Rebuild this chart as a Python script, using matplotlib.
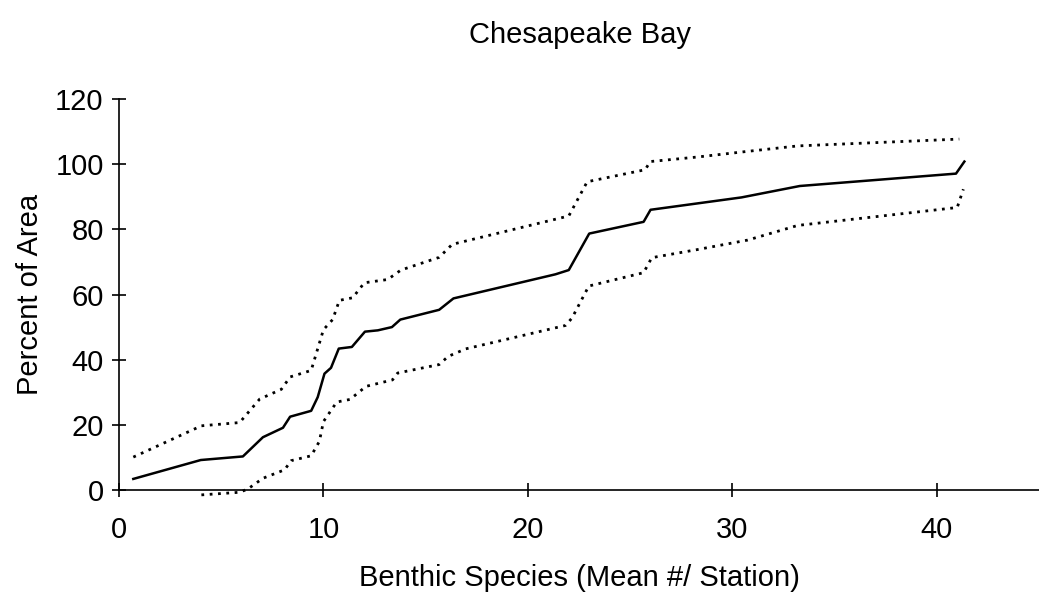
"""
Chesapeake Bay: percent of area vs benthic species (mean # / station),
with upper and lower confidence bounds (dotted).
"""

import matplotlib
matplotlib.use("Agg")
import matplotlib.pyplot as plt

plt.rcParams["font.family"] = ["Liberation Sans", "DejaVu Sans"]

# Main curve
mean_x = [0.7, 4.0, 6.06, 7.04, 8.02, 8.37, 9.4, 9.72, 10.05, 10.37, 10.75, 11.39,
          12.03, 12.66, 13.35, 13.76, 15.66, 16.36, 21.35, 22.0, 23.0, 25.66, 26.0,
          30.45, 33.3, 40.94, 41.35]
mean_y = [3.4, 9.2, 10.3, 16.2, 19.1, 22.5, 24.3, 28.5, 35.7, 37.5, 43.4, 43.9,
          48.6, 49.0, 50.0, 52.3, 55.3, 58.8, 66.2, 67.5, 78.7, 82.3, 86.0,
          89.8, 93.3, 97.1, 100.8]

# Upper bound
upper_x = [0.7, 4.03, 5.9, 6.88, 7.94, 8.37, 9.4, 10.0, 10.45, 10.78, 11.43, 12.0,
           13.14, 13.79, 15.66, 16.3, 22.0, 22.9, 25.74, 25.98, 28.3, 30.7, 33.2, 41.1]
upper_y = [10.1, 19.7, 20.7, 27.9, 30.9, 34.7, 36.7, 49.2, 52.3, 58.2, 59.0, 63.6,
           64.6, 67.5, 71.4, 75.4, 84.1, 94.6, 98.3, 100.8, 102.2, 103.9, 105.6, 107.7]

# Lower bound
lower_x = [4.03, 5.9, 6.3, 7.04, 8.1, 8.42, 9.4, 9.8, 10.0, 10.65, 11.3, 12.08,
           13.38, 13.63, 15.66, 16.1, 16.95, 21.84, 22.16, 22.98, 25.66, 26.06,
           28.3, 30.75, 33.2, 41.0, 41.3]
lower_y = [-1.5, -0.7, 0.3, 3.6, 6.2, 9.0, 10.5, 14.9, 21.0, 27.0, 27.8, 31.8,
           33.8, 35.9, 38.5, 41.0, 43.3, 50.5, 52.8, 62.6, 66.7, 71.3,
           73.8, 76.7, 81.2, 86.7, 92.3]


def main():
    fig = plt.figure(figsize=(10.39, 5.99), dpi=100)
    ax = fig.add_axes([119 / 1039, 1 - 490 / 599, (1039 - 119) / 1039, (490 - 99) / 599])

    ax.plot(mean_x, mean_y, color="black", linewidth=1.8)
    ax.plot(upper_x, upper_y, color="black", linewidth=2.0, linestyle=(0, (1, 2.0)))
    ax.plot(lower_x, lower_y, color="black", linewidth=2.0, linestyle=(0, (1, 2.0)),
            clip_on=False)

    ax.set_xlim(0, 45)
    ax.set_ylim(0, 120)
    ax.set_xticks(range(0, 41, 10))
    ax.set_yticks(range(0, 121, 20))

    for side in ["top", "right"]:
        ax.spines[side].set_visible(False)
    for side in ["left", "bottom"]:
        ax.spines[side].set_linewidth(1.2)

    ax.tick_params(direction="inout", length=10, width=1.2, labelsize=21, pad=6)
    ax.tick_params(axis="x", pad=14)

    ax.set_xlabel("Benthic Species (Mean #/ Station)", fontsize=21, labelpad=14)
    ax.set_ylabel("Percent of Area", fontsize=21, labelpad=8)
    fig.text(580 / 1039, 1 - 35 / 599, "Chesapeake Bay", ha="center", va="center",
             fontsize=21)

    fig.savefig("out.png", dpi=100)


if __name__ == "__main__":
    main()
